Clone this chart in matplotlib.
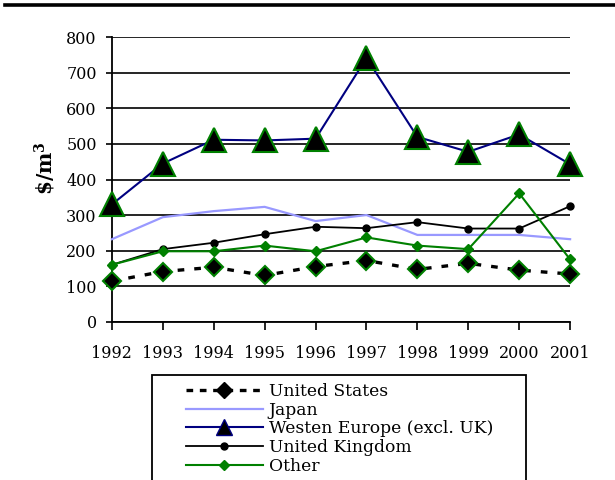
import matplotlib
matplotlib.use("Agg")
import matplotlib.pyplot as plt
from matplotlib.lines import Line2D
from matplotlib.patches import Rectangle

years = ["1992", "1993", "1994", "1995", "1996", "1997", "1998", "1999", "2000", "2001"]
united_states = [114, 141, 153, 130, 155, 172, 147, 164, 145, 134]
japan = [232, 294, 311, 323, 283, 300, 244, 244, 244, 232]
western_europe = [330, 445, 512, 510, 515, 742, 520, 478, 527, 443]
united_kingdom = [160, 204, 222, 246, 267, 263, 280, 262, 262, 325]
other = [160, 198, 198, 214, 198, 237, 214, 204, 361, 175]

plt.rcParams["font.family"] = "DejaVu Serif"
plt.rcParams["mathtext.fontset"] = "dejavuserif"

fig = plt.figure(figsize=(6.15, 4.8), dpi=100)
ax = fig.add_axes([0.182, 0.330, 0.745, 0.592])

x = list(range(len(years)))

ax.plot(x, japan, color="#9999ff", lw=1.6, zorder=3, clip_on=False)
ax.plot(x, united_kingdom, color="black", lw=1.3, marker="o", ms=5, zorder=4, clip_on=False)
ax.plot(x, other, color="#008000", lw=1.5, marker="D", ms=5,
        mfc="#008000", mec="#008000", zorder=5, clip_on=False)
ax.plot(x, western_europe, color="#000080", lw=1.5, marker="^", ms=17,
        mfc="black", mec="#008000", mew=1.5, zorder=6, clip_on=False)
ax.plot(x, united_states, color="black", lw=2.4, ls=(0, (2, 3)), marker="D", ms=9,
        mfc="black", mec="#008000", mew=1.5, zorder=7, clip_on=False)

ax.set_xlim(0, len(years) - 1)
ax.set_ylim(0, 800)
ax.set_yticks(range(0, 801, 100))
ax.set_xticks(x)
ax.set_xticklabels(years)
ax.yaxis.grid(True, color="black", lw=1.2)
ax.set_axisbelow(True)
for s in ["top", "right"]:
    ax.spines[s].set_visible(False)
ax.spines["left"].set_linewidth(1.3)
ax.spines["bottom"].set_linewidth(1.3)
ax.tick_params(axis="y", direction="out", length=4, width=1.2, pad=7, labelsize=11.5)
ax.tick_params(axis="x", direction="out", length=6, width=1.2, pad=11, labelsize=11.5)

fig.text(45 / 615, 1 - 168 / 480, r"\$/m$^{\mathbf{3}}$", rotation=90,
         ha="center", va="center", fontsize=14.5, fontweight="bold")

# rule across the top of the page
fig.add_artist(Line2D([5 / 615, 1], [1 - 5 / 480, 1 - 5 / 480], color="black", lw=2.6))

# legend box, runs off the bottom edge
fig.add_artist(Rectangle((152 / 615, -0.05), (526 - 152) / 615, 0.05 + 1 - 375 / 480,
                         transform=fig.transFigure, fill=False, ec="black", lw=1.3))

handles = [
    Line2D([], [], color="black", lw=2.4, ls=(0, (2, 2)), marker="D", ms=8,
           mfc="black", mec="black"),
    Line2D([], [], color="#9999ff", lw=1.6),
    Line2D([], [], color="#000080", lw=1.5, marker="^", ms=11, mfc="black", mec="#000080"),
    Line2D([], [], color="black", lw=1.3, marker="o", ms=5),
    Line2D([], [], color="#008000", lw=1.5, marker="D", ms=5),
]
labels = ["United States", "Japan", "Westen Europe (excl. UK)", "United Kingdom", "Other"]
fig.legend(handles, labels, loc="upper left", bbox_to_anchor=(186 / 615, 1 - 383 / 480),
           frameon=False, fontsize=12.3, handlelength=4.5, handletextpad=0.35,
           labelspacing=0.1, borderpad=0, borderaxespad=0)

fig.savefig("out.png", dpi=100)
